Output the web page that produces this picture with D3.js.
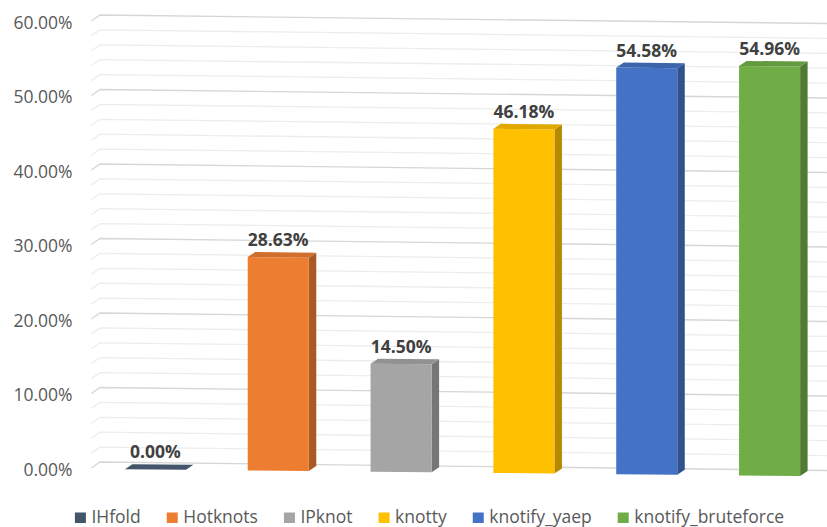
<!DOCTYPE html>
<html><head><meta charset="utf-8">
<script src="https://cdn.jsdelivr.net/npm/d3@7"></script>
<style>body{margin:0;background:#fff}</style>
</head><body><svg id="c" width="827" height="527"></svg>
<script>
const categories = ["IHfold","Hotknots","IPknot","knotty","knotify_yaep","knotify_bruteforce"];
const values = [0.00, 28.63, 14.50, 46.18, 54.58, 54.96];
const colors = ["#44546A","#ED7D31","#A5A5A5","#FFC000","#4472C4","#70AD47"];
const tickValues = [0,10,20,30,40,50,60];
const gridValues = d3.range(0, 61, 2);

const W = 827, H = 527;
const FONT = "'Open Sans', sans-serif";
const svg = d3.select("#c");

// scales
const x = d3.scalePoint().domain(categories).range([94, 831]).padding(0.5);
const barW = x.step() * 0.497;
const yH = d3.scaleLinear().domain([0, 60]).range([0, 447]); // height in px
// back wall: baseline at x=100 is 462, slopes down to the right
const wallSlope = 0.0117, wallX0 = 100, wallY0 = 462;
const wallY = (v, px) => wallY0 + (px - wallX0) * wallSlope - yH(v);
// front plane of bars
const frontSlope = 0.0102, frontX0 = 277, frontY0 = 470.7;
const frontY = (v, px) => frontY0 + (px - frontX0) * frontSlope - yH(v);
const depth = [7.5, -5];
const sideWall = [-8.7, 6];

// gridlines
const grid = svg.append("g");
gridValues.forEach(v => {
  const major = v % 10 === 0;
  const p = d3.path();
  p.moveTo(wallX0 + sideWall[0], wallY(v, wallX0) + sideWall[1]);
  p.lineTo(wallX0, wallY(v, wallX0));
  p.lineTo(W, wallY(v, W));
  grid.append("path").attr("d", p.toString()).attr("fill", "none")
    .attr("stroke", major ? "#d6d6d6" : "#ededed").attr("stroke-width", 1.3);
});

// axis labels
const fmt = v => d3.format(".2f")(v) + "%";
svg.append("g").selectAll("text").data(tickValues).join("text")
  .attr("x", 72.5)
  .attr("y", v => wallY(v, wallX0) + 13.8)
  .attr("text-anchor", "end")
  .attr("font-family", FONT).attr("font-size", 17.5)
  .attr("fill", "#595959")
  .text(fmt);

// bars
const bars = svg.append("g");
categories.forEach((c, i) => {
  const v = values[i];
  const cx = x(c);
  const xl = cx - barW / 2, xr = cx + barW / 2;
  const ytl = frontY(v, xl), ytr = frontY(v, xr);
  const ybl = frontY(0, xl), ybr = frontY(0, xr);
  const col = d3.color(colors[i]);
  const top = col.darker(0.35).formatHex();
  const side = col.darker(0.95).formatHex();
  const [dx, dy] = depth;
  const poly = pts => "M" + pts.map(p => p.join(",")).join("L") + "Z";
  // side
  bars.append("path").attr("d", poly([[xr, ytr], [xr + dx, ytr + dy], [xr + dx, ybr + dy], [xr, ybr]]))
    .attr("fill", side);
  // front
  if (v > 0) {
    bars.append("path").attr("d", poly([[xl, ytl], [xr, ytr], [xr, ybr], [xl, ybl]]))
      .attr("fill", col.formatHex());
  }
  // top
  bars.append("path").attr("d", poly([[xl, ytl], [xl + dx, ytl + dy], [xr + dx, ytr + dy], [xr, ytr]]))
    .attr("fill", v > 0 ? top : col.formatHex());
  // label
  bars.append("text")
    .attr("x", cx).attr("y", frontY(v, cx) - 11)
    .attr("text-anchor", "middle")
    .attr("font-family", FONT).attr("font-size", 17.5).attr("font-weight", "bold")
    .attr("fill", "#404040")
    .text(fmt(v));
});

// legend
const leg = svg.append("g");
const items = categories.map((c, i) => {
  const g = leg.append("g");
  g.append("rect").attr("x", 0).attr("y", -10.5).attr("width", 11).attr("height", 10.5).attr("fill", colors[i]);
  const t = g.append("text").attr("x", 16.5).attr("y", 0)
    .attr("font-family", FONT).attr("font-size", 17.5).attr("fill", "#595959").text(c);
  return {g, w: 16.5 + t.node().getComputedTextLength()};
});
const gap = 26;
const total = d3.sum(items, d => d.w) + gap * (items.length - 1);
let cur = 429.5 - total / 2;
items.forEach(it => { it.g.attr("transform", `translate(${cur},523)`); cur += it.w + gap; });
</script>
</body></html>
